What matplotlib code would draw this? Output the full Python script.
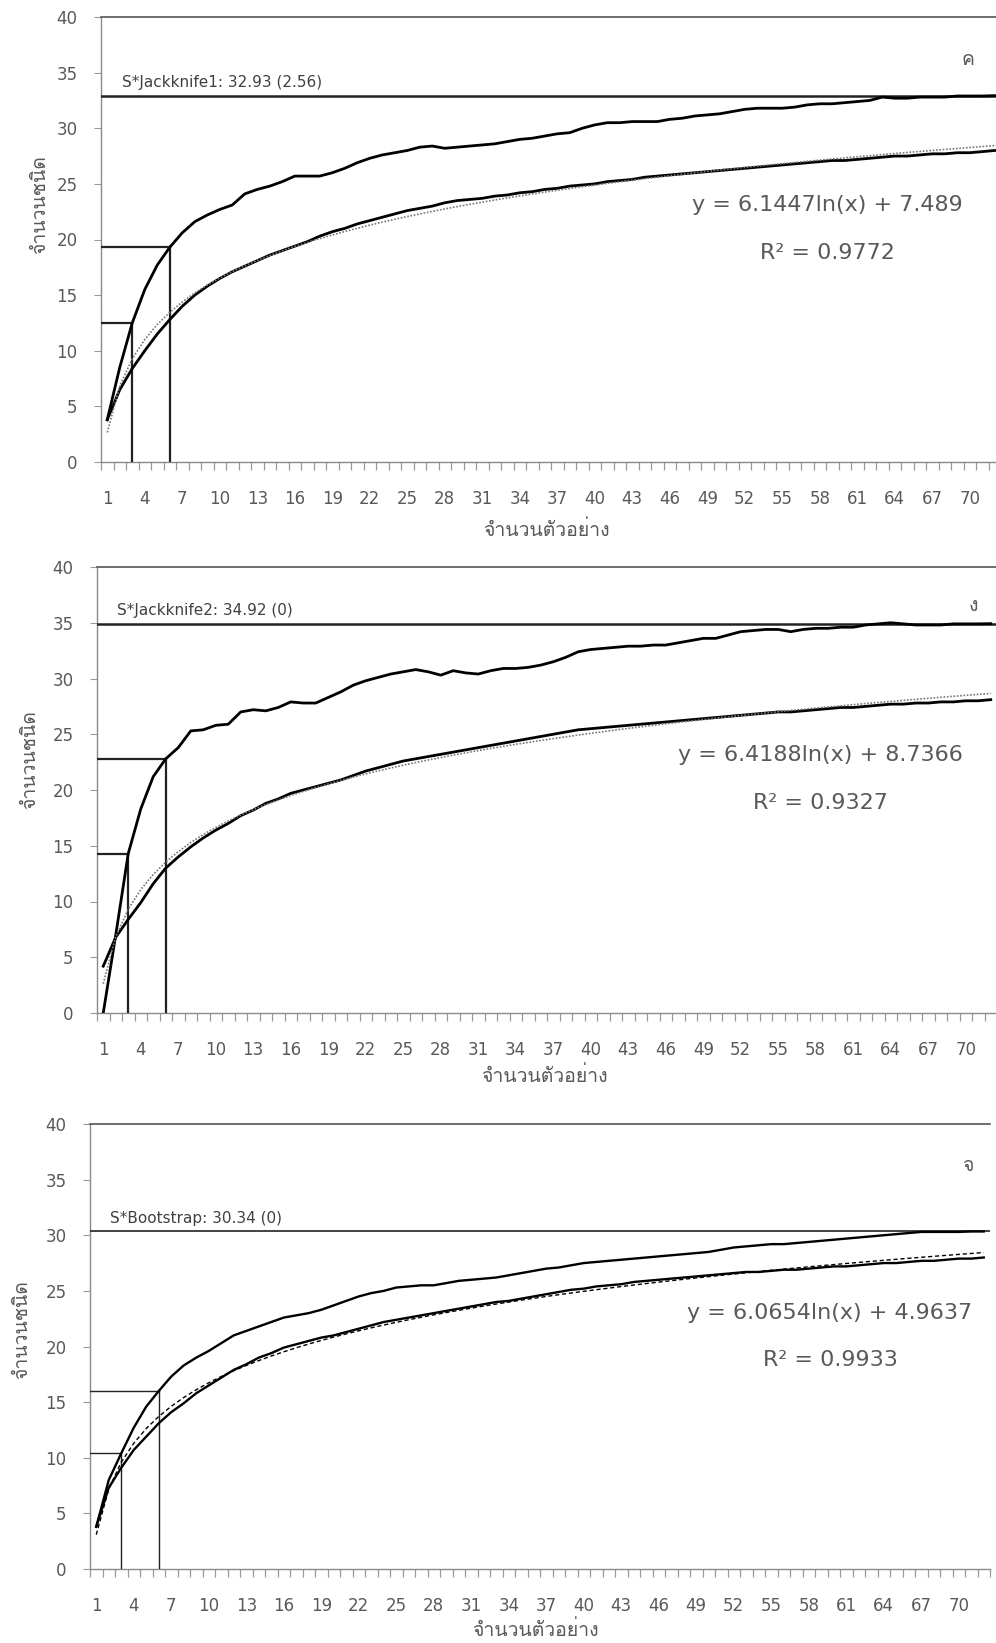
import numpy as np
import matplotlib
matplotlib.use("Agg")
import matplotlib.pyplot as plt
from matplotlib import font_manager
from matplotlib.ft2font import FT2Font

# sample number (category axis)
samples = list(range(1, 73))
xtick_labels = list(range(1, 71, 3))

# panel ค : Jackknife1
jack1_curve = [3.8, 8.5, 12.5, 15.5, 17.7, 19.3, 20.6, 21.6, 22.2, 22.7, 23.1, 24.1,
               24.5, 24.8, 25.2, 25.7, 25.7, 25.7, 26.0, 26.4, 26.9, 27.3, 27.6, 27.8,
               28.0, 28.3, 28.4, 28.2, 28.3, 28.4, 28.5, 28.6, 28.8, 29.0, 29.1, 29.3,
               29.5, 29.6, 30.0, 30.3, 30.5, 30.5, 30.6, 30.6, 30.6, 30.8, 30.9, 31.1,
               31.2, 31.3, 31.5, 31.7, 31.8, 31.8, 31.8, 31.9, 32.1, 32.2, 32.2, 32.3,
               32.4, 32.5, 32.8, 32.7, 32.7, 32.8, 32.8, 32.8, 32.9, 32.9, 32.9, 32.93]
sobs1 = [3.8, 6.5, 8.4, 10.0, 11.5, 12.8, 14.0, 15.0, 15.8, 16.5, 17.1, 17.6,
         18.1, 18.6, 19.0, 19.4, 19.8, 20.3, 20.7, 21.0, 21.4, 21.7, 22.0, 22.3,
         22.6, 22.8, 23.0, 23.3, 23.5, 23.6, 23.7, 23.9, 24.0, 24.2, 24.3, 24.5,
         24.6, 24.8, 24.9, 25.0, 25.2, 25.3, 25.4, 25.6, 25.7, 25.8, 25.9, 26.0,
         26.1, 26.2, 26.3, 26.4, 26.5, 26.6, 26.7, 26.8, 26.9, 27.0, 27.1, 27.1,
         27.2, 27.3, 27.4, 27.5, 27.5, 27.6, 27.7, 27.7, 27.8, 27.8, 27.9, 28.0]

# panel ง : Jackknife2
jack2_curve = [0.0, 7.0, 14.3, 18.3, 21.2, 22.8, 23.8, 25.3, 25.4, 25.8, 25.9, 27.0,
               27.2, 27.1, 27.4, 27.9, 27.8, 27.8, 28.3, 28.8, 29.4, 29.8, 30.1, 30.4,
               30.6, 30.8, 30.6, 30.3, 30.7, 30.5, 30.4, 30.7, 30.9, 30.9, 31.0, 31.2,
               31.5, 31.9, 32.4, 32.6, 32.7, 32.8, 32.9, 32.9, 33.0, 33.0, 33.2, 33.4,
               33.6, 33.6, 33.9, 34.2, 34.3, 34.4, 34.4, 34.2, 34.4, 34.5, 34.5, 34.6,
               34.6, 34.8, 34.9, 35.0, 34.9, 34.8, 34.8, 34.8, 34.9, 34.9, 34.9, 34.92]
sobs2 = [4.2, 6.8, 8.4, 9.9, 11.6, 13.0, 14.0, 14.9, 15.7, 16.4, 17.0, 17.7,
         18.2, 18.8, 19.2, 19.7, 20.0, 20.3, 20.6, 20.9, 21.3, 21.7, 22.0, 22.3,
         22.6, 22.8, 23.0, 23.2, 23.4, 23.6, 23.8, 24.0, 24.2, 24.4, 24.6, 24.8,
         25.0, 25.2, 25.4, 25.5, 25.6, 25.7, 25.8, 25.9, 26.0, 26.1, 26.2, 26.3,
         26.4, 26.5, 26.6, 26.7, 26.8, 26.9, 27.0, 27.0, 27.1, 27.2, 27.3, 27.4,
         27.4, 27.5, 27.6, 27.7, 27.7, 27.8, 27.8, 27.9, 27.9, 28.0, 28.0, 28.1]

# panel จ : Bootstrap
boot_curve = [3.8, 8.0, 10.4, 12.7, 14.6, 16.0, 17.3, 18.3, 19.0, 19.6, 20.3, 21.0,
              21.4, 21.8, 22.2, 22.6, 22.8, 23.0, 23.3, 23.7, 24.1, 24.5, 24.8, 25.0,
              25.3, 25.4, 25.5, 25.5, 25.7, 25.9, 26.0, 26.1, 26.2, 26.4, 26.6, 26.8,
              27.0, 27.1, 27.3, 27.5, 27.6, 27.7, 27.8, 27.9, 28.0, 28.1, 28.2, 28.3,
              28.4, 28.5, 28.7, 28.9, 29.0, 29.1, 29.2, 29.2, 29.3, 29.4, 29.5, 29.6,
              29.7, 29.8, 29.9, 30.0, 30.1, 30.2, 30.3, 30.3, 30.3, 30.3, 30.34, 30.34]
sobs3 = [3.8, 7.3, 9.1, 10.7, 11.9, 13.1, 14.1, 14.9, 15.8, 16.5, 17.2, 17.9,
         18.4, 19.0, 19.4, 19.9, 20.2, 20.5, 20.8, 21.0, 21.3, 21.6, 21.9, 22.2,
         22.4, 22.6, 22.8, 23.0, 23.2, 23.4, 23.6, 23.8, 24.0, 24.1, 24.3, 24.5,
         24.7, 24.9, 25.1, 25.2, 25.4, 25.5, 25.6, 25.8, 25.9, 26.0, 26.1, 26.2,
         26.3, 26.4, 26.5, 26.6, 26.7, 26.7, 26.8, 26.9, 26.9, 27.0, 27.1, 27.2,
         27.2, 27.3, 27.4, 27.5, 27.5, 27.6, 27.7, 27.7, 27.8, 27.9, 27.9, 28.0]

estimates = [32.93, 34.92, 30.34]
est_labels = ["S*Jackknife1: 32.93 (2.56)", "S*Jackknife2: 34.92 (0)", "S*Bootstrap: 30.34 (0)"]
equations = ["y = 6.1447ln(x) + 7.489", "y = 6.4188ln(x) + 8.7366", "y = 6.0654ln(x) + 4.9637"]
r2_labels = ["R² = 0.9772", "R² = 0.9327", "R² = 0.9933"]
panel_tags = ["ค", "ง", "จ"]
mark_samples = [3, 6]


def find_thai_font():
    for f in font_manager.fontManager.ttflist:
        try:
            cmap = FT2Font(f.fname).get_charmap()
        except Exception:
            continue
        if 0x0E08 in cmap and 0x0E33 in cmap and 0x0E19 in cmap:
            return f.name
    return None


thai = find_thai_font()
thai_fam = [thai, "DejaVu Sans"] if thai else ["DejaVu Sans"]

W, H = 996, 1643
fig = plt.figure(figsize=(W / 100, H / 100), dpi=100)
grey = "#595959"

# axes boxes in pixels: left, top, bottom
boxes = [(101, 17, 462), (97, 567, 1013), (90, 1124, 1569)]
curves = [jack1_curve, jack2_curve, boot_curve]
sobs_all = [sobs1, sobs2, sobs3]
curve_lw = [2.0, 2.0, 1.7]
guide_lw = [1.6, 1.6, 1.0]
fit_style = [dict(color="#777777", ls=(0, (1, 1)), lw=1.2),
             dict(color="#777777", ls=(0, (1, 1)), lw=1.2),
             dict(color="black", ls=(0, (3, 2)), lw=1.0)]
ylab_pos = [(40, 205), (30, 760), (22, 1330)]
xlab_pos = [(546, 530), (544, 1076), (535, 1630)]
tag_pos = [(968, 60), (973, 606), (968, 1166)]
eq_pos = [(827, 205, 253), (820, 755, 803), (830, 1313, 1360)]
lab_x = [122, 117, 110]

x = np.array(samples)
for i in range(3):
    left, top, bottom = boxes[i]
    width = 72 * 12.5
    ax = fig.add_axes([left / W, (H - bottom) / H, width / W, (bottom - top) / H])
    ax.set_xlim(0.5, 72.5)
    ax.set_ylim(0, 40)

    up = np.array(curves[i])
    so = np.array(sobs_all[i])
    ax.plot(x, up, color="black", lw=curve_lw[i], zorder=4)
    ax.plot(x, so, color="black", lw=curve_lw[i], zorder=4)

    # logarithmic trend line of observed species
    a, b = np.polyfit(np.log(x), so, 1)
    ax.plot(x, a * np.log(x) + b, zorder=5, **fit_style[i])

    # estimator level
    ax.axhline(estimates[i], color="#222222", lw=guide_lw[i] + 0.2, zorder=3)
    ax.text((lab_x[i] - left) / width, (estimates[i] + 0.5) / 40, est_labels[i],
            transform=ax.transAxes, fontsize=11, color="#404040", va="bottom", ha="left")

    # guide lines at sample 3 and 6
    for s in mark_samples:
        yv = up[s - 1]
        ax.plot([0.5, s], [yv, yv], color="#222222", lw=guide_lw[i], zorder=3)
        ax.plot([s, s], [0, yv], color="#222222", lw=guide_lw[i], zorder=3)

    # axes styling
    ax.spines["right"].set_visible(False)
    for sp in ["left", "bottom"]:
        ax.spines[sp].set_color("#8a8a8a")
        ax.spines[sp].set_linewidth(1.0)
    ax.spines["top"].set_color("#555555")
    ax.spines["top"].set_linewidth(1.2)
    ax.set_yticks(range(0, 41, 5))
    ax.tick_params(axis="y", direction="out", length=5, color="#9a9a9a",
                   labelsize=12, labelcolor=grey, pad=12)
    ax.set_xticks(xtick_labels)
    ax.set_xticklabels([str(v) for v in xtick_labels])
    ax.tick_params(axis="x", which="major", length=0, labelsize=12,
                   labelcolor=grey, pad=20)
    ax.set_xticks(np.arange(0.5, 73, 1.0), minor=True)
    ax.tick_params(axis="x", which="minor", direction="out", length=6,
                   color="#9a9a9a", width=0.9)

    fig.text(ylab_pos[i][0] / W, 1 - ylab_pos[i][1] / H, "จำนวนชนิด", rotation=90,
             ha="center", va="center", fontsize=14, color=grey, family=thai_fam)
    fig.text(xlab_pos[i][0] / W, 1 - xlab_pos[i][1] / H, "จำนวนตัวอย่าง",
             ha="center", va="center", fontsize=14, color=grey, family=thai_fam)
    fig.text(tag_pos[i][0] / W, 1 - tag_pos[i][1] / H, panel_tags[i],
             ha="center", va="center", fontsize=14, color=grey, family=thai_fam)
    ex, ey1, ey2 = eq_pos[i]
    fig.text(ex / W, 1 - ey1 / H, equations[i], ha="center", va="center",
             fontsize=16, color=grey)
    fig.text(ex / W, 1 - ey2 / H, r2_labels[i], ha="center", va="center",
             fontsize=16, color=grey)

fig.savefig("out.png", dpi=100)
